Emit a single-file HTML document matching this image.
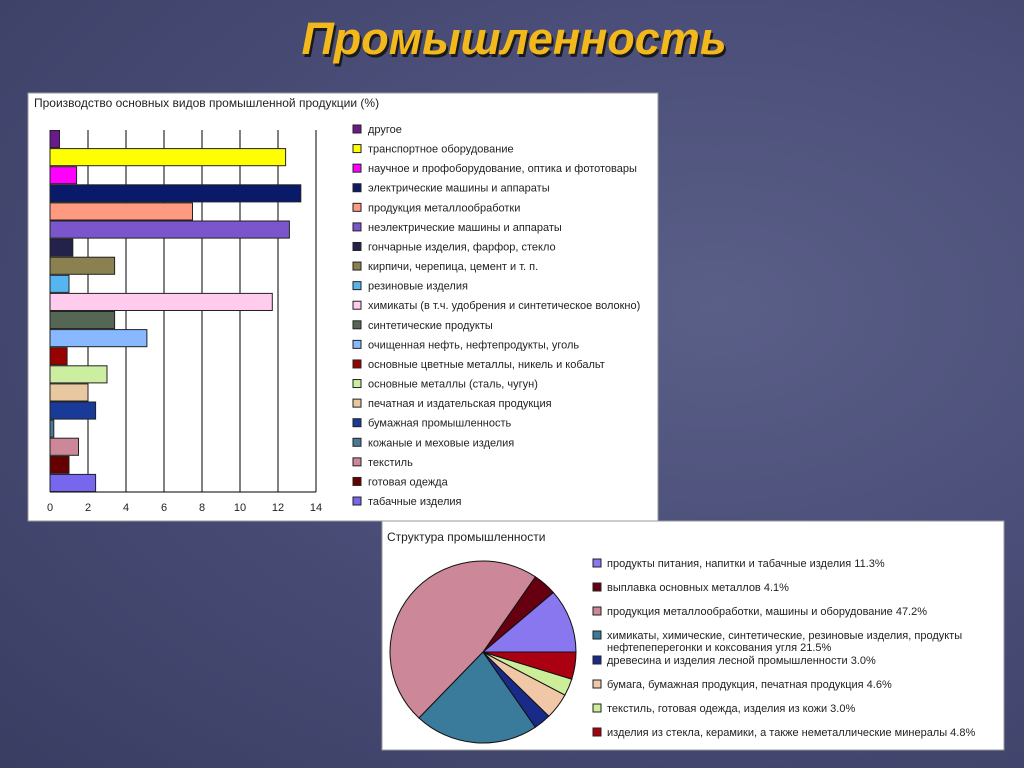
<!DOCTYPE html>
<html><head><meta charset="utf-8"><style>
html,body{margin:0;padding:0;width:1024px;height:768px;overflow:hidden}
body{background:radial-gradient(ellipse at 70% 40%,#5a5f88 0%,#4a4e78 45%,#3a3d62 100%);font-family:"Liberation Sans",sans-serif}
svg text{font-family:"Liberation Sans","DejaVu Sans",sans-serif}
</style></head><body>
<svg id="s" width="1024" height="768">
<text x="516" y="57" text-anchor="middle" font-size="45" font-weight="bold" font-style="italic" fill="#1a1a1a">Промышленность</text>
<text x="514" y="54" text-anchor="middle" font-size="45" font-weight="bold" font-style="italic" fill="#f2b81c">Промышленность</text>
<rect x="28" y="93" width="630" height="428" fill="#fff" stroke="#999"/>
<text x="34" y="107" font-size="12" fill="#222">Производство основных видов промышленной продукции (%)</text>
<g id="bars"></g>
<rect x="382" y="521" width="622" height="229" fill="#fff" stroke="#999"/>
<text x="387" y="541" font-size="12" fill="#222">Структура промышленности</text>
<g id="pie"></g>
</svg>
<script>
const barCategories=["другое","транспортное оборудование","научное и профоборудование, оптика и фототовары","электрические машины и аппараты","продукция металлообработки","неэлектрические машины и аппараты","гончарные изделия, фарфор, стекло","кирпичи, черепица, цемент и т. п.","резиновые изделия","химикаты (в т.ч. удобрения и синтетическое волокно)","синтетические продукты","очищенная нефть, нефтепродукты, уголь","основные цветные металлы, никель и кобальт","основные металлы (сталь, чугун)","печатная и издательская продукция","бумажная промышленность","кожаные и меховые изделия","текстиль","готовая одежда","табачные изделия"];
const barValues=[0.5,12.4,1.4,13.2,7.5,12.6,1.2,3.4,1.0,11.7,3.4,5.1,0.9,3.0,2.0,2.4,0.2,1.5,1.0,2.4];
const barColors=["#6a1a8a","#ffff00","#ff00ff","#0a1a6a","#ff9980","#7a55cc","#22224a","#8a8050","#55b5ee","#ffccee","#556655","#88b8ff","#990000","#cceea0","#e8c8a0","#1a3a99","#4a7a99","#cc8899","#660000","#7766ee"];
const xTicks=[0,2,4,6,8,10,12,14];
const pieLabels=["продукты питания, напитки и табачные изделия  11.3%","выплавка основных металлов  4.1%","продукция металлообработки, машины и оборудование  47.2%","химикаты, химические, синтетические, резиновые изделия, продукты|нефтепеперегонки и коксования угля  21.5%","древесина и изделия лесной промышленности  3.0%","бумага, бумажная продукция, печатная продукция  4.6%","текстиль, готовая одежда, изделия из кожи  3.0%","изделия из стекла, керамики, а также неметаллические минералы  4.8%"];
const pieValues=[11.3,4.1,47.2,21.5,3.0,4.6,3.0,4.8];
const pieColors=["#8877ee","#660011","#cc8899","#3a7a9a","#1a2a88","#f0c8a8","#ccee99","#aa0011"];
const NS="http://www.w3.org/2000/svg";
function mk(p,t,a,txt){const e=document.createElementNS(NS,t);for(const k in a)e.setAttribute(k,a[k]);if(txt!=null)e.textContent=txt;p.appendChild(e);return e;}
const bg=document.getElementById('bars');
const x0=50,pxPer=19,yTop=130,yBot=492;
const xs=v=>x0+v*pxPer;
const slot=(yBot-yTop)/barValues.length;
xTicks.forEach(t=>{
 const l=mk(bg,'line',{x1:xs(t),x2:xs(t),y1:yTop,y2:yBot,stroke:'#000','stroke-width':1});
 
 
 const tx=mk(bg,'text',{x:xs(t),y:511,'text-anchor':'middle','font-size':11,fill:'#222'},String(t));
 
 
});
const ax=mk(bg,'line',{x1:x0,x2:xs(14),y1:yBot,y2:yBot,stroke:'#000'});


barValues.forEach((v,i)=>{
 const r=mk(bg,'rect',{x:x0,y:yTop+i*slot+0.5,width:v*pxPer,height:slot-1,fill:barColors[i],stroke:'#222','stroke-width':1});
 
 
 const ly=129+i*19.58;
 const sq=mk(bg,'rect',{x:353,y:ly-4,width:8,height:8,fill:barColors[i],stroke:'#222'});
 
 
 const lt=mk(bg,'text',{x:368,y:ly+4,'font-size':11,fill:'#222',textLength:null},barCategories[i]);
 lt.removeAttribute('textLength');
 
 
});
const pg=document.getElementById('pie');
const cx=483,cy=652,rx=93,ry=91;
const tot=pieValues.reduce((a,b)=>a+b,0);
let a=0;
pieValues.forEach((v,i)=>{
 const a1=a,a2=a+v/tot*2*Math.PI;a=a2;
 const p1=[cx+rx*Math.cos(a1),cy-ry*Math.sin(a1)],p2=[cx+rx*Math.cos(a2),cy-ry*Math.sin(a2)];
 const large=(a2-a1)>Math.PI?1:0;
 const s=mk(pg,'path',{d:`M${cx},${cy}L${p1[0]},${p1[1]}A${rx},${ry} 0 ${large} 0 ${p2[0]},${p2[1]}Z`,fill:pieColors[i],stroke:'#111','stroke-width':1});
 
 
});
const legY=[563,587,611,635,660,684,708,732];
pieLabels.forEach((t,i)=>{
 const sq=mk(pg,'rect',{x:593,y:legY[i]-4,width:8,height:8,fill:pieColors[i],stroke:'#222'});
 
 
 t.split('|').forEach((ln,j)=>{
  const tx=mk(pg,'text',{x:607,y:legY[i]+4+j*12,'font-size':11,fill:'#222'},ln);
  
  
 });
});
</script>
</body></html>
